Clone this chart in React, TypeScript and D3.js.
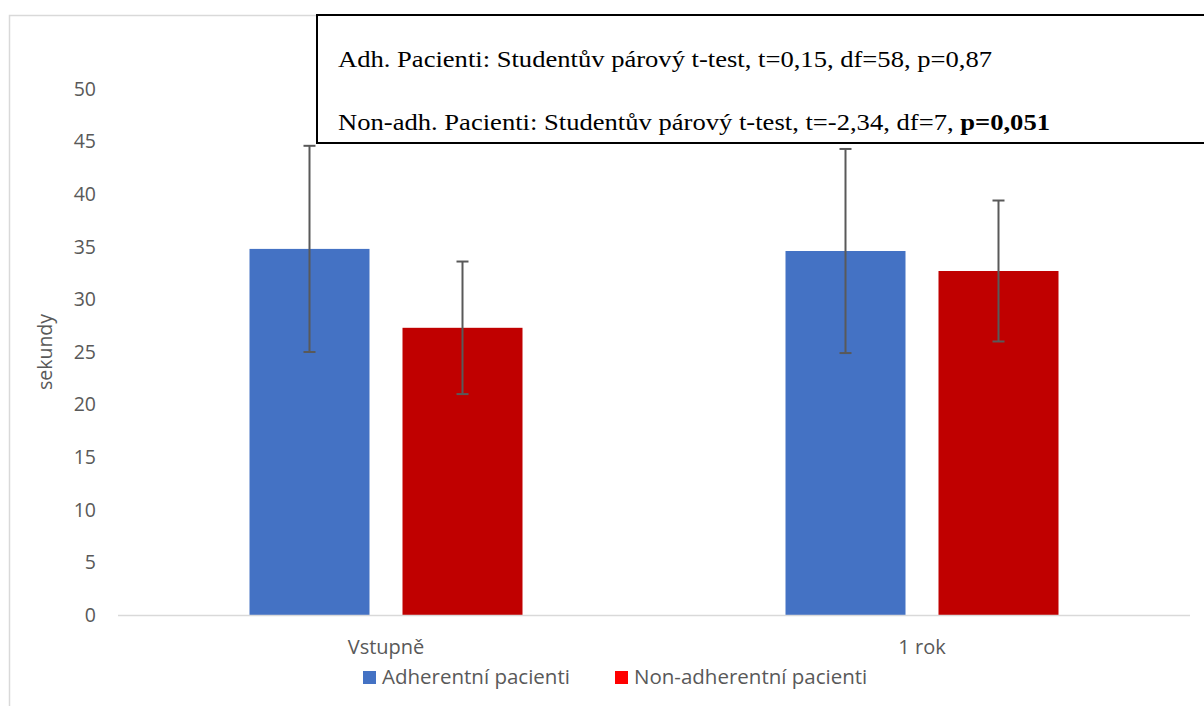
import React from "react";
import * as d3 from "d3";

const categories = ["Vstupně", "1 rok"];
const seriesNames = ["Adherentní pacienti", "Non-adherentní pacienti"];
const adherentMeans = [34.8, 34.6];
const adherentErr = [9.8, 9.7];
const nonAdherentMeans = [27.3, 32.7];
const nonAdherentErr = [6.3, 6.7];
const yTicks = [0, 5, 10, 15, 20, 25, 30, 35, 40, 45, 50];
const annotationLines = [
  "Adh. Pacienti: Studentův párový t-test, t=0,15, df=58, p=0,87",
  "Non-adh. Pacienti: Studentův párový t-test, t=-2,34, df=7, ",
];
const annotationBold = "p=0,051";

const W = 1204;
const H = 706;
const barColors = ["#4472C4", "#C00000"];
const legendColors = ["#4472C4", "#FF0000"];
const sans = "'Open Sans', 'Noto Sans', sans-serif";
const serif = "'Liberation Serif', 'Times New Roman', serif";

export default function App() {
  const x0 = d3.scaleBand<string>().domain(categories).range([118, 1190]).paddingInner(0).paddingOuter(0);
  const y = d3.scaleLinear().domain([0, 50]).range([615, 89]);
  const barW = 120;
  const gap = 33;
  const series = [
    { means: adherentMeans, errs: adherentErr },
    { means: nonAdherentMeans, errs: nonAdherentErr },
  ];
  const groupW = barW * 2 + gap;
  const legendX = [363, 615];

  return (
    <svg width={W} height={H} style={{ position: "fixed", left: 0, top: 0, background: "#fff" }}>
      <rect x={0} y={0} width={W} height={H} fill="#fff" />
      {/* outer chart border */}
      <rect x={9.5} y={15.5} width={1300} height={800} fill="none" stroke="#d9d9d9" strokeWidth={1.5} />

      {/* y ticks */}
      {yTicks.map((t) => (
        <text key={t} x={96} y={y(t)} dy="0.35em" textAnchor="end" fontFamily={sans} fontSize={19.5} fill="#595959">
          {t}
        </text>
      ))}
      <text
        transform={`translate(45,${(y(0) + y(50)) / 2}) rotate(-90)`}
        textAnchor="middle"
        dy="0.35em"
        fontFamily={sans}
        fontSize={19.5}
        fill="#595959"
      >
        sekundy
      </text>

      {/* bars */}
      {categories.map((c, ci) => {
        const cx = (x0(c) as number) + x0.bandwidth() / 2;
        const start = cx - groupW / 2;
        return series.map((s, si) => {
          const bx = start + si * (barW + gap);
          const v = s.means[ci];
          return (
            <rect key={`${ci}-${si}`} x={bx} y={y(v)} width={barW} height={y(0) - y(v)} fill={barColors[si]} />
          );
        });
      })}

      {/* axis line */}
      <line x1={118} x2={1190} y1={y(0) + 0.5} y2={y(0) + 0.5} stroke="#d9d9d9" strokeWidth={1.5} />

      {/* error bars */}
      {categories.map((c, ci) => {
        const cx = (x0(c) as number) + x0.bandwidth() / 2;
        const start = cx - groupW / 2;
        return series.map((s, si) => {
          const mx = start + si * (barW + gap) + barW / 2;
          const v = s.means[ci];
          const e = s.errs[ci];
          return (
            <g key={`e${ci}-${si}`} stroke="#595959" strokeWidth={2}>
              <line x1={mx} x2={mx} y1={y(v + e)} y2={y(v - e)} />
              <line x1={mx - 6} x2={mx + 6} y1={y(v + e)} y2={y(v + e)} />
              <line x1={mx - 6} x2={mx + 6} y1={y(v - e)} y2={y(v - e)} />
            </g>
          );
        });
      })}

      {/* category labels */}
      {categories.map((c) => (
        <text
          key={c}
          x={(x0(c) as number) + x0.bandwidth() / 2}
          y={654}
          textAnchor="middle"
          fontFamily={sans}
          fontSize={20}
          fill="#595959"
        >
          {c}
        </text>
      ))}

      {/* legend */}
      {seriesNames.map((n, i) => {
        const lx = legendX[i];
        return (
          <g key={n}>
            <rect x={lx} y={671} width={13} height={13} fill={legendColors[i]} />
            <text x={lx + 19} y={684} fontFamily={sans} fontSize={20.5} fill="#595959">
              {n}
            </text>
          </g>
        );
      })}

      {/* annotation box */}
      <rect x={317} y={15} width={1000} height={128} fill="#fff" stroke="#000" strokeWidth={2} />
      <text
        x={338}
        y={67}
        fontFamily={serif}
        fontSize={24}
        fill="#000"
        textLength={654}
        lengthAdjust="spacingAndGlyphs"
      >
        {annotationLines[0]}
      </text>
      <text
        x={338}
        y={130}
        fontFamily={serif}
        fontSize={24}
        fill="#000"
        textLength={712}
        lengthAdjust="spacingAndGlyphs"
      >
        {annotationLines[1]}
        <tspan fontWeight="bold">{annotationBold}</tspan>
      </text>
    </svg>
  );
}
